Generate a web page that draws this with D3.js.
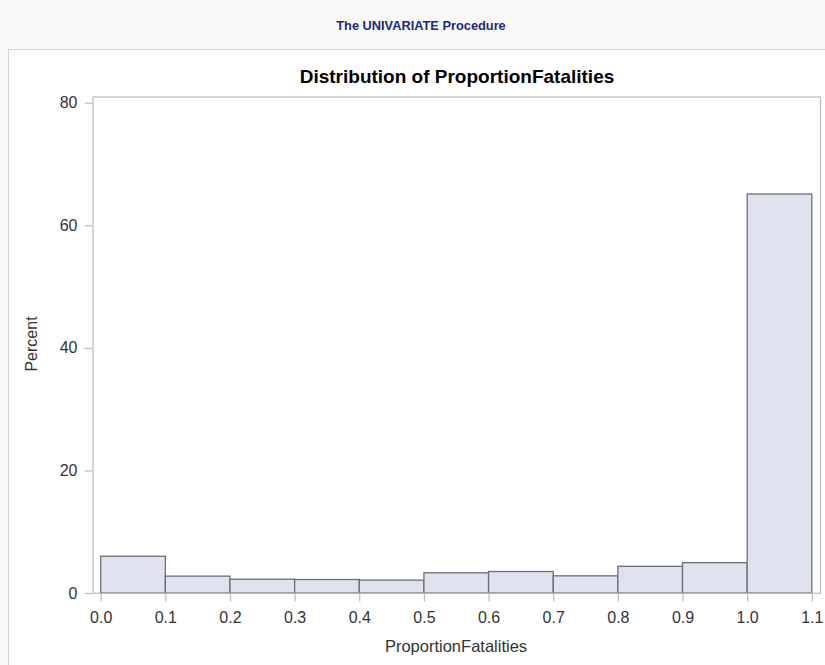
<!DOCTYPE html>
<html>
<head>
<meta charset="utf-8">
<script src="https://cdn.jsdelivr.net/npm/d3@7"></script>
<style>
  body { margin: 0; background: #f9f9f9; }
  #container { width: 825px; height: 665px; position: relative; overflow: hidden; }
</style>
</head>
<body>
<div id="container"></div>
<script>
// histogram bins (left edges) and percent per bin
let binStarts = [0.0, 0.1, 0.2, 0.3, 0.4, 0.5, 0.6, 0.7, 0.8, 0.9, 1.0];
let binWidth = 0.1;
let percents = [6.0, 2.75, 2.25, 2.2, 2.1, 3.3, 3.5, 2.8, 4.35, 4.95, 65.1];
let xTicks = [0.0, 0.1, 0.2, 0.3, 0.4, 0.5, 0.6, 0.7, 0.8, 0.9, 1.0, 1.1];
let yTicks = [0, 20, 40, 60, 80];

let data = binStarts.map((b, i) => ({ x0: b, x1: b + binWidth, pct: percents[i] }));

const w = 825;
const h = 665;
const font = "'Liberation Sans', Arial, sans-serif";

let viz = d3.select("#container")
  .append("svg")
    .attr("width", w)
    .attr("height", h)
    .style("font-family", font)
;

// page header
viz.append("text")
  .attr("x", 421)
  .attr("y", 30)
  .attr("text-anchor", "middle")
  .attr("font-size", 12.8)
  .attr("font-weight", "bold")
  .attr("fill", "#1a2a78")
  .text("The UNIVARIATE Procedure");

// white output panel
viz.append("rect")
  .attr("x", 8.5)
  .attr("y", 49.5)
  .attr("width", 830)
  .attr("height", 640)
  .attr("fill", "white")
  .attr("stroke", "#d4d4d4");

// plot frame
const frame = { left: 93, top: 97, right: 820.5, bottom: 593.3 };

let xScale = d3.scaleLinear().domain([0, 1.1]).range([100.7, 811.8]);
let yScale = d3.scaleLinear().domain([0, 80]).range([593, 102.7]);

viz.append("text")
  .attr("x", 457)
  .attr("y", 83)
  .attr("text-anchor", "middle")
  .attr("font-size", 19)
  .attr("font-weight", "bold")
  .attr("fill", "#000")
  .text("Distribution of ProportionFatalities");

// bars
viz.selectAll(".bar").data(data).enter()
  .append("rect")
    .attr("class", "bar")
    .attr("x", d => xScale(d.x0))
    .attr("y", d => yScale(d.pct))
    .attr("width", d => xScale(d.x1) - xScale(d.x0))
    .attr("height", d => yScale(0) - yScale(d.pct))
    .attr("fill", "#dfe3ef")
    .attr("stroke", "#6b6e72")
    .attr("stroke-width", 1.3)
;

viz.append("rect")
  .attr("x", frame.left)
  .attr("y", frame.top)
  .attr("width", frame.right - frame.left)
  .attr("height", frame.bottom - frame.top)
  .attr("fill", "none")
  .attr("stroke", "#b8bbbf")
  .attr("stroke-width", 1.2);

// axes
let yAxis = d3.axisLeft(yScale).tickValues(yTicks).tickSize(8).tickPadding(7).tickFormat(d3.format("d"));
let gy = viz.append("g")
  .attr("transform", "translate(" + (frame.left - 0.5) + ",0)")
  .call(yAxis);
gy.select(".domain").remove();

let xAxis = d3.axisBottom(xScale).tickValues(xTicks).tickSize(8).tickPadding(10).tickFormat(d3.format(".1f"));
let gx = viz.append("g")
  .attr("transform", "translate(0," + (frame.bottom + 0.2) + ")")
  .call(xAxis);
gx.select(".domain").remove();

[gx, gy].forEach(g => {
  g.attr("font-size", 16).attr("font-family", font);
  g.selectAll(".tick line").attr("stroke", "#b8bbbf").attr("stroke-width", 1.2);
  g.selectAll(".tick text").attr("fill", "#333");
});

// axis labels
viz.append("text")
  .attr("x", 456)
  .attr("y", 652)
  .attr("text-anchor", "middle")
  .attr("font-size", 16.5)
  .attr("fill", "#333")
  .text("ProportionFatalities");

viz.append("text")
  .attr("transform", "translate(37,344) rotate(-90)")
  .attr("text-anchor", "middle")
  .attr("font-size", 16)
  .attr("fill", "#333")
  .text("Percent");
</script>
</body>
</html>
